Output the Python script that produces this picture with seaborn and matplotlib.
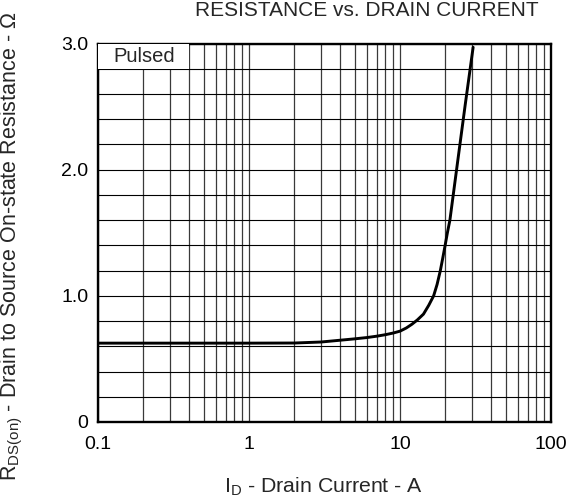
import numpy as np
import pandas as pd
import matplotlib
matplotlib.use("Agg")
import matplotlib.pyplot as plt
import seaborn as sns
from matplotlib.patches import Rectangle
from matplotlib.ticker import FixedLocator, NullFormatter

# ---- data ----
drain_current = [0.1, 0.5, 1, 2, 3, 4, 5, 6, 7, 8, 9, 10, 11, 12, 13, 14.3, 15.5,
                 16.7, 17.6, 18.5, 19.2, 19.9, 20.6, 21.4, 24.0, 27.0, 30.5]
rds_on = [0.625, 0.625, 0.625, 0.626, 0.634, 0.648, 0.659, 0.669, 0.68, 0.692, 0.705, 0.72,
          0.745, 0.775, 0.808, 0.855, 0.925, 1.0, 1.09, 1.2, 1.3, 1.4, 1.5, 1.6, 2.05, 2.51, 2.97]
x_ticks = [0.1, 1, 10, 100]
x_tick_labels = ["0.1", "1", "10", "100"]
y_ticks = [0, 1.0, 2.0, 3.0]
y_tick_labels = ["0", "1.0", "2.0", "3.0"]

df = pd.DataFrame({"ID": drain_current, "RDS": rds_on})

sns.set_style("white")
plt.rcParams["font.family"] = ["Liberation Sans", "DejaVu Sans"]
plt.rcParams["mathtext.fontset"] = "custom"
plt.rcParams["mathtext.rm"] = "Liberation Sans"

fig = plt.figure(figsize=(5.71, 4.99), dpi=100)
ax = fig.add_axes([98 / 571, 1 - 422 / 499, (551 - 98) / 571, (422 - 43.5) / 499])

sns.lineplot(data=df, x="ID", y="RDS", ax=ax, color="black", linewidth=2.1,
             estimator=None, sort=False, zorder=5)

ax.set_xscale("log")
ax.set_xlim(0.1, 100)
ax.set_ylim(0, 3.0)

# grid
minor_x = [m * 10.0 ** e for e in (-1, 0, 1) for m in range(2, 10)]
ax.xaxis.set_minor_locator(FixedLocator(minor_x))
ax.xaxis.set_minor_formatter(NullFormatter())
ax.set_xticks(x_ticks)
ax.set_xticklabels(x_tick_labels)
ax.set_yticks(y_ticks)
ax.set_yticklabels(y_tick_labels)
ax.yaxis.set_minor_locator(FixedLocator(np.arange(0.2, 3.0, 0.2)))
ax.xaxis.grid(True, which="both", color="#3a3a3a", linewidth=0.9)
ax.yaxis.grid(True, which="both", color="#000000", linewidth=0.8)
ax.set_axisbelow(True)
ax.tick_params(which="both", length=0, labelsize=14, colors="black")
ax.tick_params(axis="x", pad=10)
ax.tick_params(axis="y", pad=7)

for s in ax.spines.values():
    s.set_visible(True)
    s.set_color("black")
    s.set_linewidth(1.7)

# "Pulsed" box
ax.add_patch(Rectangle((0.1, 2.8), 0.3, 0.2, facecolor="white", edgecolor="none", zorder=3))
ax.text(0.126, 2.9, "Pulsed", fontsize=14.5, va="center", ha="left", zorder=4)

ax.set_xlabel("")
ax.set_ylabel("")

fig.text(366.5 / 571, 1 - 16.5 / 499, "RESISTANCE vs. DRAIN CURRENT", ha="center", va="baseline",
         fontsize=15)
fig.text(323 / 571, 1 - 487 / 499, r"I$_{\mathregular{D}}$ - Drain Current - A", ha="center",
         va="center", fontsize=15.3)
fig.text(12 / 571, 1 - 246 / 499, r"R$_{\mathregular{DS(on)}}$ - Drain to Source On-state Resistance - Ω",
         ha="center", va="center", rotation=90, fontsize=15.5)

fig.savefig("out.png", dpi=100)
